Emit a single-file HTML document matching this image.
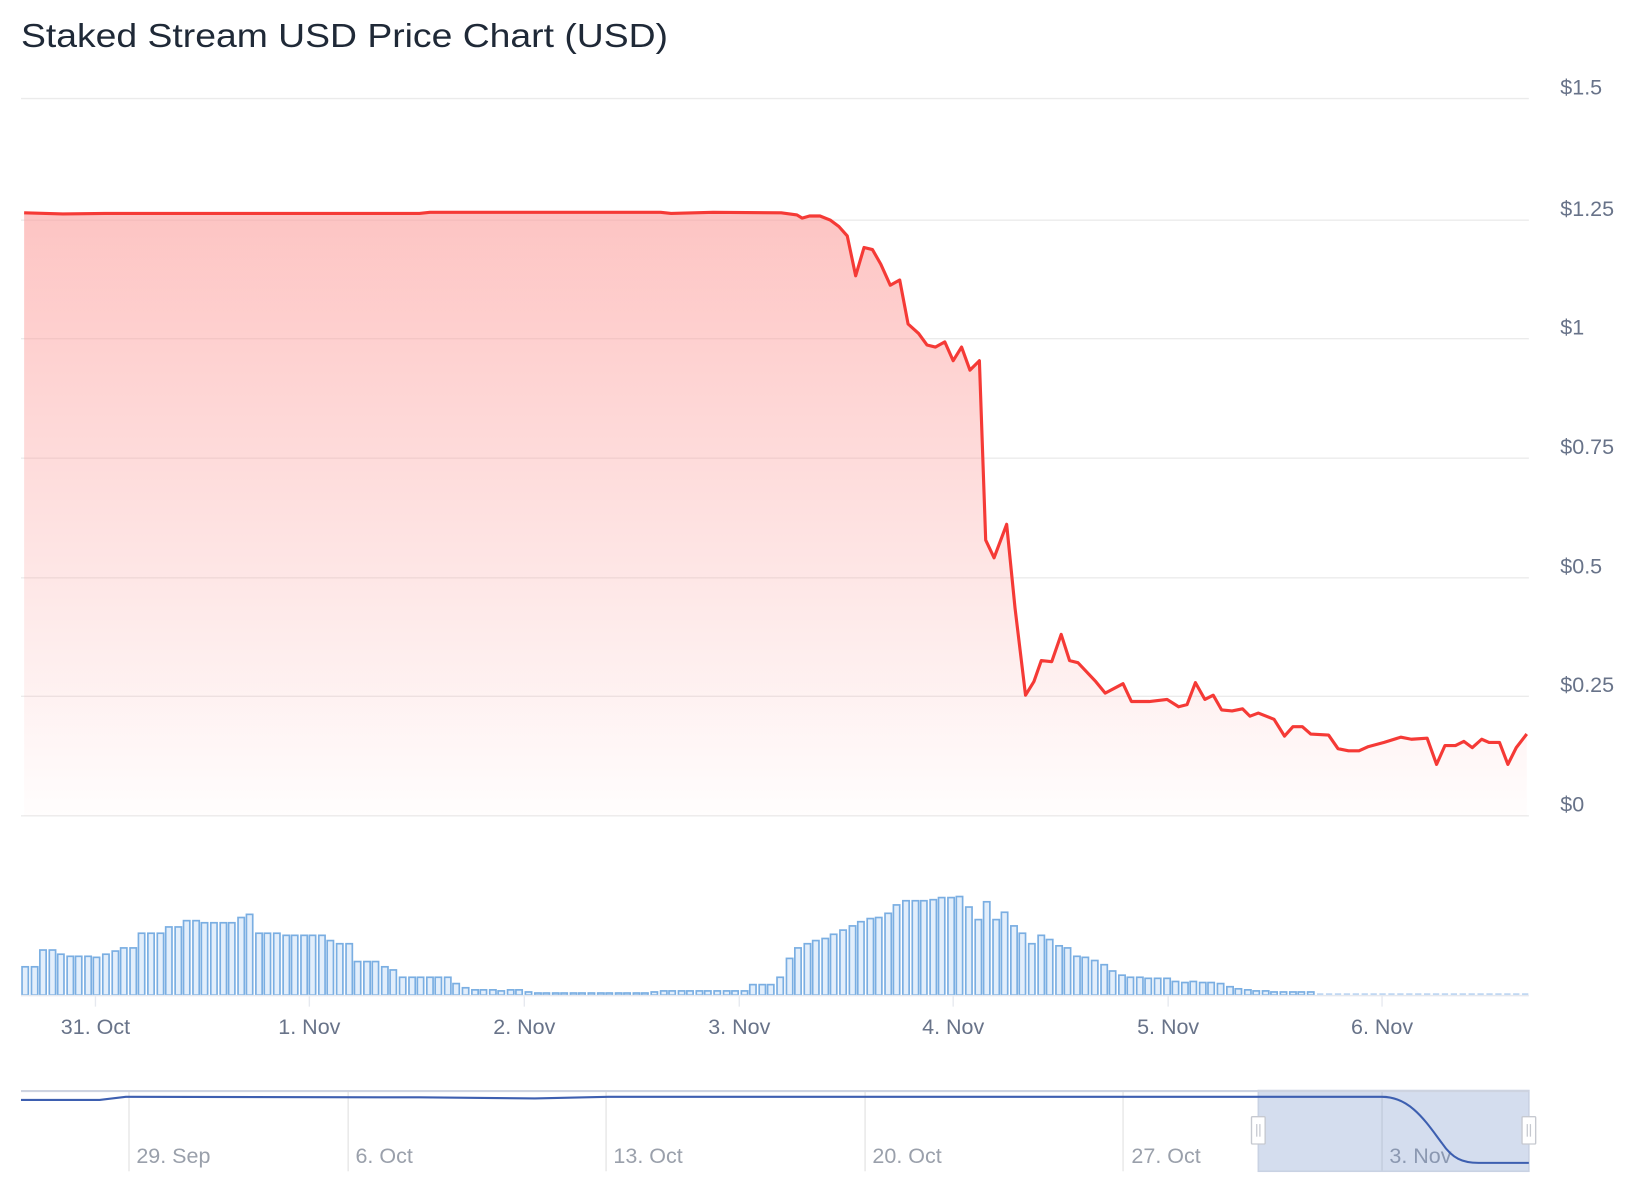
<!DOCTYPE html>
<html><head><meta charset="utf-8"><style>
html,body{margin:0;padding:0;background:#fff;}
svg{display:block;}
text{font-family:"Liberation Sans",sans-serif;}
</style></head><body>
<svg width="1644" height="1200" viewBox="0 0 1567.8 1144.4" xmlns="http://www.w3.org/2000/svg">
<defs>
<linearGradient id="g" x1="0" y1="0" x2="0" y2="1">
<stop offset="0" stop-color="#fc9d9b" stop-opacity="0.6"/>
<stop offset="1" stop-color="#fc9d9b" stop-opacity="0.02"/>
</linearGradient>
</defs>
<text x="20" y="45" font-size="31.5" fill="#1f2937" textLength="617" lengthAdjust="spacingAndGlyphs">Staked Stream USD Price Chart (USD)</text>
<g stroke="#ebebeb" stroke-width="1.3">
<line x1="20" x2="1458" y1="94" y2="94"/><line x1="20" x2="1458" y1="210" y2="210"/>
<line x1="20" x2="1458" y1="323" y2="323"/><line x1="20" x2="1458" y1="437" y2="437"/>
<line x1="20" x2="1458" y1="551" y2="551"/><line x1="20" x2="1458" y1="664" y2="664"/>
<line x1="20" x2="1458" y1="778" y2="778"/>
</g>
<g font-size="20.5" fill="#687389">
<text x="1488" y="90">$1.5</text><text x="1488" y="206">$1.25</text>
<text x="1488" y="319">$1</text><text x="1488" y="433">$0.75</text>
<text x="1488" y="547">$0.5</text><text x="1488" y="660">$0.25</text>
<text x="1488" y="774">$0</text>
</g>
<path fill="url(#g)" d="M23,203 L60,204 L100,203.5 L400,203.5 L410,202.5 L630,202.5 L640,203.5 L680,202.5 L745,203 L760,205 L765,208 L772,206 L782,206 L792,210 L800,216 L808,225 L816,263 L824,236 L832,238 L840,252 L849,272 L858,267 L866,309 L876,318 L884,329 L892,331 L901,326 L909,344 L917,331 L925,353 L934,344 L940,515 L948,532 L960,500 L968,580 L978,663 L986,650 L993,630 L1003,631 L1012,605 L1020,630 L1028,632 L1045,650 L1054,661 L1071,652 L1079,669 L1096,669 L1113,667 L1124,674 L1132,672 L1140,651 L1149,667 L1157,663 L1165,677 L1175,678 L1185,676 L1192,683 L1200,680 L1215,686 L1225,702 L1233,693 L1242,693 L1250,700 L1267,701 L1276,714 L1286,716 L1296,716 L1305,712 L1320,708 L1336,703 L1346,705 L1361,704 L1370,729 L1378,711 L1388,711 L1396,707 L1404,713 L1413,705 L1420,708 L1430,708 L1438,729 L1446,713 L1456,700 L1456,778 L23,778 Z"/>
<path fill="none" stroke="#f53a36" stroke-width="3" stroke-linejoin="round" d="M23,203 L60,204 L100,203.5 L400,203.5 L410,202.5 L630,202.5 L640,203.5 L680,202.5 L745,203 L760,205 L765,208 L772,206 L782,206 L792,210 L800,216 L808,225 L816,263 L824,236 L832,238 L840,252 L849,272 L858,267 L866,309 L876,318 L884,329 L892,331 L901,326 L909,344 L917,331 L925,353 L934,344 L940,515 L948,532 L960,500 L968,580 L978,663 L986,650 L993,630 L1003,631 L1012,605 L1020,630 L1028,632 L1045,650 L1054,661 L1071,652 L1079,669 L1096,669 L1113,667 L1124,674 L1132,672 L1140,651 L1149,667 L1157,663 L1165,677 L1175,678 L1185,676 L1192,683 L1200,680 L1215,686 L1225,702 L1233,693 L1242,693 L1250,700 L1267,701 L1276,714 L1286,716 L1296,716 L1305,712 L1320,708 L1336,703 L1346,705 L1361,704 L1370,729 L1378,711 L1388,711 L1396,707 L1404,713 L1413,705 L1420,708 L1430,708 L1438,729 L1446,713 L1456,700"/>
<g fill="#e2eefb" stroke="#7aaee2" stroke-width="1.6">
<rect x="21" y="922" width="6" height="27"/><rect x="30" y="922" width="6" height="27"/><rect x="38" y="906" width="6" height="43"/><rect x="47" y="906" width="6" height="43"/><rect x="55" y="910" width="6" height="39"/><rect x="64" y="912" width="6" height="37"/><rect x="72" y="912" width="6" height="37"/><rect x="81" y="912" width="6" height="37"/><rect x="89" y="913" width="6" height="36"/><rect x="98" y="910" width="6" height="39"/>
<rect x="107" y="907" width="6" height="42"/><rect x="115" y="904" width="6" height="45"/><rect x="124" y="904" width="6" height="45"/><rect x="132" y="890" width="6" height="59"/><rect x="141" y="890" width="6" height="59"/><rect x="150" y="890" width="6" height="59"/><rect x="158" y="884" width="6" height="65"/><rect x="167" y="884" width="6" height="65"/><rect x="175" y="878" width="6" height="71"/><rect x="184" y="878" width="6" height="71"/>
<rect x="192" y="880" width="6" height="69"/><rect x="201" y="880" width="6" height="69"/><rect x="210" y="880" width="6" height="69"/><rect x="218" y="880" width="6" height="69"/><rect x="227" y="875" width="6" height="74"/><rect x="235" y="872" width="6" height="77"/><rect x="244" y="890" width="6" height="59"/><rect x="252" y="890" width="6" height="59"/><rect x="261" y="890" width="6" height="59"/><rect x="270" y="892" width="6" height="57"/>
<rect x="278" y="892" width="6" height="57"/><rect x="287" y="892" width="6" height="57"/><rect x="295" y="892" width="6" height="57"/><rect x="304" y="892" width="6" height="57"/><rect x="312" y="897" width="6" height="52"/><rect x="321" y="900" width="6" height="49"/><rect x="330" y="900" width="6" height="49"/><rect x="338" y="917" width="6" height="32"/><rect x="347" y="917" width="6" height="32"/><rect x="355" y="917" width="6" height="32"/>
<rect x="364" y="922" width="6" height="27"/><rect x="372" y="925" width="6" height="24"/><rect x="381" y="932" width="6" height="17"/><rect x="390" y="932" width="6" height="17"/><rect x="398" y="932" width="6" height="17"/><rect x="407" y="932" width="6" height="17"/><rect x="415" y="932" width="6" height="17"/><rect x="424" y="932" width="6" height="17"/><rect x="432" y="938" width="6" height="11"/><rect x="441" y="942" width="6" height="7"/>
<rect x="450" y="944" width="6" height="5"/><rect x="458" y="944" width="6" height="5"/><rect x="467" y="944" width="6" height="5"/><rect x="475" y="945" width="6" height="4"/><rect x="484" y="944" width="6" height="5"/><rect x="492" y="944" width="6" height="5"/><rect x="501" y="946" width="6" height="3"/><rect x="510" y="947" width="6" height="2"/><rect x="518" y="947" width="6" height="2"/><rect x="527" y="947" width="6" height="2"/>
<rect x="535" y="947" width="6" height="2"/><rect x="544" y="947" width="6" height="2"/><rect x="552" y="947" width="6" height="2"/><rect x="561" y="947" width="6" height="2"/><rect x="570" y="947" width="6" height="2"/><rect x="578" y="947" width="6" height="2"/><rect x="587" y="947" width="6" height="2"/><rect x="595" y="947" width="6" height="2"/><rect x="604" y="947" width="6" height="2"/><rect x="612" y="947" width="6" height="2"/>
<rect x="621" y="946" width="6" height="3"/><rect x="630" y="945" width="6" height="4"/><rect x="638" y="945" width="6" height="4"/><rect x="647" y="945" width="6" height="4"/><rect x="655" y="945" width="6" height="4"/><rect x="664" y="945" width="6" height="4"/><rect x="672" y="945" width="6" height="4"/><rect x="681" y="945" width="6" height="4"/><rect x="690" y="945" width="6" height="4"/><rect x="698" y="945" width="6" height="4"/>
<rect x="707" y="945" width="6" height="4"/><rect x="715" y="939" width="6" height="10"/><rect x="724" y="939" width="6" height="10"/><rect x="732" y="939" width="6" height="10"/><rect x="741" y="932" width="6" height="17"/><rect x="750" y="914" width="6" height="35"/><rect x="758" y="904" width="6" height="45"/><rect x="767" y="900" width="6" height="49"/><rect x="775" y="897" width="6" height="52"/><rect x="784" y="895" width="6" height="54"/>
<rect x="792" y="891" width="6" height="58"/><rect x="801" y="887" width="6" height="62"/><rect x="810" y="883" width="6" height="66"/><rect x="818" y="879" width="6" height="70"/><rect x="827" y="876" width="6" height="73"/><rect x="835" y="875" width="6" height="74"/><rect x="844" y="871" width="6" height="78"/><rect x="852" y="863" width="6" height="86"/><rect x="861" y="859" width="6" height="90"/><rect x="870" y="859" width="6" height="90"/>
<rect x="878" y="859" width="6" height="90"/><rect x="887" y="858" width="6" height="91"/><rect x="895" y="856" width="6" height="93"/><rect x="904" y="856" width="6" height="93"/><rect x="912" y="855" width="6" height="94"/><rect x="921" y="865" width="6" height="84"/><rect x="930" y="877" width="6" height="72"/><rect x="938" y="860" width="6" height="89"/><rect x="947" y="877" width="6" height="72"/><rect x="955" y="870" width="6" height="79"/>
<rect x="964" y="883" width="6" height="66"/><rect x="972" y="890" width="6" height="59"/><rect x="981" y="900" width="6" height="49"/><rect x="990" y="892" width="6" height="57"/><rect x="998" y="896" width="6" height="53"/><rect x="1007" y="902" width="6" height="47"/><rect x="1015" y="904" width="6" height="45"/><rect x="1024" y="912" width="6" height="37"/><rect x="1032" y="913" width="6" height="36"/><rect x="1041" y="916" width="6" height="33"/>
<rect x="1050" y="920" width="6" height="29"/><rect x="1058" y="926" width="6" height="23"/><rect x="1067" y="930" width="6" height="19"/><rect x="1075" y="932" width="6" height="17"/><rect x="1084" y="932" width="6" height="17"/><rect x="1092" y="933" width="6" height="16"/><rect x="1101" y="933" width="6" height="16"/><rect x="1110" y="933" width="6" height="16"/><rect x="1118" y="936" width="6" height="13"/><rect x="1127" y="937" width="6" height="12"/>
<rect x="1135" y="936" width="6" height="13"/><rect x="1144" y="937" width="6" height="12"/><rect x="1152" y="937" width="6" height="12"/><rect x="1161" y="938" width="6" height="11"/><rect x="1170" y="941" width="6" height="8"/><rect x="1178" y="943" width="6" height="6"/><rect x="1187" y="944" width="6" height="5"/><rect x="1195" y="945" width="6" height="4"/><rect x="1204" y="945" width="6" height="4"/><rect x="1212" y="946" width="6" height="3"/>
<rect x="1221" y="946" width="6" height="3"/><rect x="1230" y="946" width="6" height="3"/><rect x="1238" y="946" width="6" height="3"/><rect x="1247" y="946" width="6" height="3"/>
</g>
<line x1="1256" x2="1458" y1="948" y2="948" stroke="#9cc2ec" stroke-width="1" stroke-dasharray="6,2.5"/>
<line x1="20" x2="1458" y1="949.5" y2="949.5" stroke="#e6e9ef" stroke-width="1.5"/>
<g stroke="#e6e9ef" stroke-width="1.3">
<line x1="91" x2="91" y1="950" y2="960"/><line x1="295" x2="295" y1="950" y2="960"/>
<line x1="500" x2="500" y1="950" y2="960"/><line x1="705" x2="705" y1="950" y2="960"/>
<line x1="909" x2="909" y1="950" y2="960"/><line x1="1114" x2="1114" y1="950" y2="960"/>
<line x1="1318" x2="1318" y1="950" y2="960"/>
</g>
<g font-size="20.5" fill="#687389" text-anchor="middle">
<text x="91" y="986">31. Oct</text><text x="295" y="986">1. Nov</text>
<text x="500" y="986">2. Nov</text><text x="705" y="986">3. Nov</text>
<text x="909" y="986">4. Nov</text><text x="1114" y="986">5. Nov</text>
<text x="1318" y="986">6. Nov</text>
</g>
<g stroke="#e6e6e6" stroke-width="1.3">
<line x1="123" x2="123" y1="1040" y2="1117"/><line x1="332" x2="332" y1="1040" y2="1117"/>
<line x1="578" x2="578" y1="1040" y2="1117"/><line x1="825" x2="825" y1="1040" y2="1117"/>
<line x1="1071" x2="1071" y1="1040" y2="1117"/><line x1="1318" x2="1318" y1="1040" y2="1117"/>
</g>
<g font-size="20.5" fill="#9aa0ab">
<text x="130" y="1109">29. Sep</text><text x="339" y="1109">6. Oct</text>
<text x="585" y="1109">13. Oct</text><text x="832" y="1109">20. Oct</text>
<text x="1079" y="1109">27. Oct</text><text x="1325" y="1109">3. Nov</text>
</g>
<rect x="1200" y="1040" width="258" height="77" fill="#6685c2" fill-opacity="0.28" stroke="#c9d2e3" stroke-width="1.5"/>
<line x1="20" x2="1458" y1="1040.5" y2="1040.5" stroke="#cdd3e0" stroke-width="2"/>
<path d="M20,1049 L95,1049 L120,1046 L400,1046.5 L510,1047.5 L580,1046 L1318,1046 C1345,1046 1360,1070 1375,1090 C1385,1105 1395,1109 1410,1109 L1458,1109" fill="none" stroke="#3d5fb0" stroke-width="2"/>
<g fill="#fff" stroke="#c6c9d0" stroke-width="1.3">
<rect x="1193.5" y="1065" width="13" height="26" rx="1"/>
<rect x="1451.5" y="1065" width="13" height="26" rx="1"/>
</g>
<g stroke="#c6c9d0" stroke-width="1.2">
<line x1="1198.5" x2="1198.5" y1="1072" y2="1084"/><line x1="1201.5" x2="1201.5" y1="1072" y2="1084"/>
<line x1="1456.5" x2="1456.5" y1="1072" y2="1084"/><line x1="1459.5" x2="1459.5" y1="1072" y2="1084"/>
</g>
</svg>
</body></html>
